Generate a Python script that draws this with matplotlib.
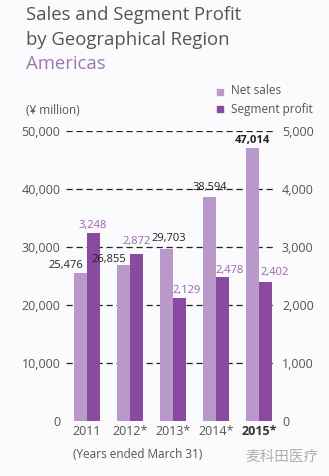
import numpy as np
import matplotlib
matplotlib.use("Agg")
import matplotlib.pyplot as plt

# data
years = ["2011", "2012*", "2013*", "2014*", "2015*"]
net_sales = [25476, 26855, 29703, 38594, 47014]
segment_profit = [3248, 2872, 2129, 2478, 2402]

light = "#b999c9"
dark = "#8a4a9f"
grey = "#555555"

plt.rcParams["font.family"] = ["Open Sans", "Noto Sans CJK SC", "DejaVu Sans"]

fig = plt.figure(figsize=(3.29, 4.76), dpi=100)
fig.patch.set_facecolor("#fbfafc")

ax = fig.add_axes([66 / 329, 1 - 421 / 476, 209 / 329, 290 / 476])
ax2 = ax.twinx()
ax.set_facecolor("none")
ax2.set_facecolor("none")

x = np.arange(len(years))
w = 0.30

# dashed grid behind bars
for v in [10000, 20000, 30000, 40000, 50000]:
    ax.axhline(v, color="#222222", lw=0.9, ls=(0, (5, 3)), zorder=0)

ax.bar(x - 0.155, net_sales, width=w, color=light, zorder=2)
ax2.bar(x + 0.155, segment_profit, width=w, color=dark, zorder=2)

ax.set_xlim(-0.49, 4.37)
ax.set_ylim(0, 50000)
ax2.set_ylim(0, 5000)

ax.set_yticks(range(0, 50001, 10000))
ax.set_yticklabels([f"{v:,}" for v in range(0, 50001, 10000)])
ax2.set_yticks(range(0, 5001, 1000))
ax2.set_yticklabels([f"{v:,}" for v in range(0, 5001, 1000)])

for a in (ax, ax2):
    for s in a.spines.values():
        s.set_visible(False)
    a.tick_params(length=0, labelsize=9, colors=grey)
ax.tick_params(axis="y", pad=4)
ax2.tick_params(axis="y", pad=5)

ax.set_xticks(x)
ax.set_xticklabels(years)
ax.tick_params(axis="x", pad=3)
ax.get_xticklabels()[-1].set_fontweight("bold")
ax.get_xticklabels()[-1].set_color("#333333")

# value labels (all on the top axes so they sit above every bar)
ns_off = [(-15, 8), (-15, 6), (2, 10), (0, 10), (0, 8)]
sp_off = [(-1, 7), (0, 13), (7, 7), (7, 7), (9, 9)]
for i, v in enumerate(net_sales):
    ax2.annotate(f"{v:,}", (x[i] - 0.155, v / 10), xytext=ns_off[i],
                 textcoords="offset pixels", ha="center", va="center",
                 fontsize=8, color="#222222",
                 fontweight="bold" if i == 4 else "normal", zorder=5)
for i, v in enumerate(segment_profit):
    ax2.annotate(f"{v:,}", (x[i] + 0.155, v), xytext=sp_off[i],
                 textcoords="offset pixels", ha="center", va="center",
                 fontsize=8, color="#9a63b0", zorder=5)

# titles and notes
fig.text(26 / 329, 1 - 15 / 476, "Sales and Segment Profit", fontsize=13.3,
         color=grey, va="center", ha="left")
fig.text(26 / 329, 1 - 40 / 476, "by Geographical Region", fontsize=13.3,
         color=grey, va="center", ha="left")
fig.text(26 / 329, 1 - 64 / 476, "Americas", fontsize=13.3,
         color="#9b78b5", va="center", ha="left")
fig.text(26 / 329, 1 - 110 / 476, "(¥ million)", fontsize=8.5,
         color=grey, va="center", ha="left")
fig.text(73 / 329, 1 - 455 / 476, "(Years ended March 31)", fontsize=8.5,
         color=grey, va="center", ha="left")

# legend
fig.patches.append(plt.Rectangle((217 / 329, 1 - 95 / 476), 6 / 329, 6 / 476,
                                 transform=fig.transFigure, color=light))
fig.patches.append(plt.Rectangle((217 / 329, 1 - 112 / 476), 6 / 329, 6 / 476,
                                 transform=fig.transFigure, color=dark))
fig.text(231 / 329, 1 - 91 / 476, "Net sales", fontsize=8.5, color=grey,
         va="center", ha="left")
fig.text(231 / 329, 1 - 109 / 476, "Segment profit", fontsize=8.5, color=grey,
         va="center", ha="left")

# watermark
fig.text(318 / 329, 1 - 457 / 476, "麦科田医疗", fontsize=10.5, color="#b0b0b0",
         va="center", ha="right")

fig.savefig("out.png", dpi=100, facecolor=fig.get_facecolor())
